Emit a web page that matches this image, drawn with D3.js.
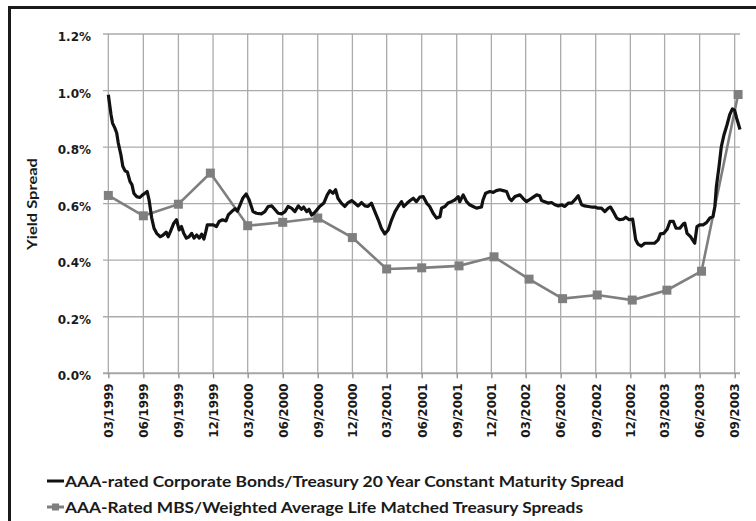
<!DOCTYPE html>
<html>
<head>
<meta charset="utf-8">
<script src="https://cdn.jsdelivr.net/npm/d3@7/dist/d3.min.js"></script>
<style>
  html, body { margin: 0; padding: 0; background: #fff; }
  svg { display: block; }
</style>
</head>
<body>
<svg id="chart" width="756" height="521"></svg>
<script>
// ---------------- DATA ----------------
const yTickValues = [0, 0.2, 0.4, 0.6, 0.8, 1.0, 1.2];
const xTickLabelsStart = "1999-03-01";
const xTickLabelsEnd = "2003-09-01";

const corpSeriesName = "AAA-rated Corporate Bonds/Treasury 20 Year Constant Maturity Spread";
const mbsSeriesName = "AAA-Rated MBS/Weighted Average Life Matched Treasury Spreads";
const yAxisTitle = "Yield Spread";

// AAA corporate / 20y CMT spread (%)
const corpSeries = [
["1999-03-01",0.985],["1999-03-08",0.915],["1999-03-12",0.885],["1999-03-18",0.868],["1999-03-23",0.850],["1999-03-27",0.815],["1999-04-03",0.773],["1999-04-08",0.732],["1999-04-14",0.716],["1999-04-20",0.712],["1999-04-27",0.678],["1999-05-02",0.667],["1999-05-07",0.637],["1999-05-14",0.625],["1999-05-23",0.622],["1999-05-30",0.631],["1999-06-05",0.637],["1999-06-11",0.643],["1999-06-16",0.613],["1999-06-23",0.549],["1999-06-29",0.513],["1999-07-06",0.495],["1999-07-15",0.483],["1999-07-23",0.489],["1999-07-31",0.499],["1999-08-05",0.483],["1999-08-11",0.501],["1999-08-20",0.531],["1999-08-27",0.543],["1999-09-03",0.507],["1999-09-09",0.519],["1999-09-15",0.495],["1999-09-22",0.478],["1999-09-29",0.483],["1999-10-06",0.495],["1999-10-12",0.478],["1999-10-19",0.489],["1999-10-26",0.478],["1999-11-01",0.492],["1999-11-07",0.475],["1999-11-12",0.501],["1999-11-16",0.525],["1999-11-23",0.525],["1999-12-02",0.525],["1999-12-10",0.519],["1999-12-17",0.537],["1999-12-26",0.543],
["2000-01-04",0.539],["2000-01-10",0.560],["2000-01-19",0.572],["2000-01-28",0.582],["2000-02-03",0.574],["2000-02-10",0.596],["2000-02-17",0.619],["2000-02-26",0.634],["2000-03-05",0.613],["2000-03-15",0.572],["2000-03-24",0.566],["2000-04-06",0.564],["2000-04-15",0.572],["2000-04-24",0.590],["2000-05-03",0.592],["2000-05-11",0.580],["2000-05-20",0.566],["2000-05-29",0.564],["2000-06-07",0.572],["2000-06-15",0.590],["2000-06-24",0.584],["2000-07-03",0.572],["2000-07-12",0.592],["2000-07-20",0.580],["2000-07-26",0.588],["2000-08-03",0.572],["2000-08-09",0.580],["2000-08-16",0.560],["2000-08-24",0.569],["2000-09-06",0.590],["2000-09-17",0.602],["2000-09-26",0.631],["2000-10-03",0.646],["2000-10-11",0.637],["2000-10-18",0.649],["2000-10-24",0.619],["2000-11-02",0.602],["2000-11-11",0.590],["2000-11-20",0.604],["2000-11-29",0.611],["2000-12-07",0.602],["2000-12-16",0.592],["2000-12-25",0.604],
["2001-01-03",0.592],["2001-01-11",0.590],["2001-01-20",0.602],["2001-01-29",0.572],["2001-02-07",0.543],["2001-02-15",0.513],["2001-02-24",0.493],["2001-03-05",0.507],["2001-03-14",0.543],["2001-03-23",0.572],["2001-03-31",0.590],["2001-04-09",0.607],["2001-04-15",0.590],["2001-04-24",0.602],["2001-05-01",0.610],["2001-05-10",0.619],["2001-05-18",0.607],["2001-05-27",0.623],["2001-06-05",0.625],["2001-06-14",0.602],["2001-06-22",0.590],["2001-07-01",0.566],["2001-07-10",0.549],["2001-07-19",0.554],["2001-07-23",0.584],["2001-08-01",0.590],["2001-08-09",0.602],["2001-08-18",0.607],["2001-08-27",0.613],["2001-09-05",0.625],["2001-09-09",0.607],["2001-09-18",0.631],["2001-09-27",0.607],["2001-10-05",0.596],["2001-10-14",0.590],["2001-10-23",0.584],["2001-11-05",0.588],["2001-11-09",0.613],["2001-11-16",0.637],["2001-11-27",0.643],["2001-12-06",0.640],["2001-12-14",0.646],["2001-12-23",0.649],
["2002-01-01",0.646],["2002-01-10",0.643],["2002-01-17",0.619],["2002-01-23",0.611],["2002-02-01",0.625],["2002-02-14",0.631],["2002-02-22",0.619],["2002-03-03",0.607],["2002-03-10",0.613],["2002-03-21",0.623],["2002-03-30",0.631],["2002-04-07",0.628],["2002-04-12",0.611],["2002-04-20",0.607],["2002-04-29",0.602],["2002-05-08",0.604],["2002-05-17",0.596],["2002-05-26",0.592],["2002-06-03",0.596],["2002-06-12",0.590],["2002-06-21",0.602],["2002-06-30",0.602],["2002-07-08",0.613],["2002-07-17",0.628],["2002-07-26",0.596],["2002-08-03",0.592],["2002-08-12",0.590],["2002-08-21",0.588],["2002-08-30",0.588],["2002-09-07",0.584],["2002-09-16",0.584],["2002-09-25",0.572],["2002-10-04",0.584],["2002-10-10",0.588],["2002-10-17",0.572],["2002-10-26",0.549],["2002-11-03",0.543],["2002-11-12",0.545],["2002-11-19",0.552],["2002-11-28",0.543],["2002-12-07",0.545],["2002-12-10",0.519],["2002-12-15",0.472],["2002-12-21",0.457],["2002-12-30",0.450],
["2003-01-08",0.460],["2003-01-21",0.460],["2003-02-03",0.460],["2003-02-12",0.472],["2003-02-18",0.493],["2003-02-27",0.495],["2003-03-08",0.510],["2003-03-15",0.537],["2003-03-24",0.537],["2003-03-31",0.513],["2003-04-10",0.513],["2003-04-19",0.528],["2003-04-23",0.531],["2003-04-29",0.495],["2003-05-08",0.483],["2003-05-19",0.460],["2003-05-25",0.519],["2003-06-01",0.525],["2003-06-10",0.525],["2003-06-19",0.533],["2003-06-28",0.549],["2003-07-06",0.554],["2003-07-11",0.590],["2003-07-15",0.661],["2003-07-22",0.732],["2003-07-28",0.802],["2003-08-04",0.844],["2003-08-12",0.879],["2003-08-19",0.915],["2003-08-26",0.935],["2003-09-01",0.930],["2003-09-06",0.903],["2003-09-10",0.885],["2003-09-15",0.862]
];

// AAA MBS / WAL-matched Treasury spread (%), quarterly
const mbsDates = ["1999-03-01","1999-06-01","1999-09-01","1999-11-24","2000-03-01","2000-06-01","2000-09-01","2000-12-01","2001-03-01","2001-06-01","2001-09-07","2001-12-08","2002-03-10","2002-06-06","2002-09-05","2002-12-06","2003-03-07","2003-06-06","2003-09-10"];
const mbsValues = [0.629,0.557,0.598,0.708,0.522,0.534,0.549,0.480,0.369,0.373,0.380,0.412,0.333,0.264,0.277,0.259,0.294,0.361,0.986];

// ---------------- CHART ----------------
const parse = d3.timeParse("%Y-%m-%d");
const svg = d3.select("#chart");

const plot = { left: 103, right: 740, top: 34, bottom: 373.3 };
const domainStart = parse("1999-02-15");
const domainEnd = parse("2003-09-15");

const x = d3.scaleTime().domain([domainStart, domainEnd]).range([plot.left, plot.right]);
const y = d3.scaleLinear().domain([0, 1.2]).range([plot.bottom, plot.top]);

const xTicks = d3.timeMonth.range(parse(xTickLabelsStart), d3.timeDay.offset(parse(xTickLabelsEnd), 1), 3);
const fmtX = d3.timeFormat("%m/%Y");
const fmtY = d => d3.format(".1f")(d) + "%";

// outer frame
svg.append("rect")
  .attr("x", 9.5).attr("y", 7.5).attr("width", 900).attr("height", 700)
  .attr("fill", "none").attr("stroke", "#1a1a1a").attr("stroke-width", 3);

const gridColor = "#ababab";

// horizontal gridlines
svg.append("g")
  .selectAll("line").data(yTickValues.filter(d => d > 0)).join("line")
  .attr("x1", plot.left).attr("x2", plot.right)
  .attr("y1", d => y(d)).attr("y2", d => y(d))
  .attr("stroke", gridColor).attr("stroke-width", 1.3);

// vertical gridlines
svg.append("g")
  .selectAll("line").data(xTicks).join("line")
  .attr("x1", d => x(d)).attr("x2", d => x(d))
  .attr("y1", plot.top).attr("y2", plot.bottom)
  .attr("stroke", gridColor).attr("stroke-width", 1.3);

// x axis
const xAxis = d3.axisBottom(x).tickValues(xTicks).tickFormat(fmtX).tickSize(5).tickSizeOuter(0);
const gx = svg.append("g").attr("transform", `translate(0,${plot.bottom})`).call(xAxis);
gx.select(".domain").attr("stroke", "#a6a6a6").attr("stroke-width", 2)
  .attr("d", `M${plot.left},0H${plot.right}`);
gx.selectAll(".tick line").attr("stroke", "#8c8c8c").attr("stroke-width", 1.3);
gx.selectAll(".tick text")
  .attr("font-family", "'DejaVu Sans', Verdana, sans-serif")
  .attr("font-weight", "bold").attr("font-size", 12).attr("fill", "#1a1a1a")
  .attr("text-anchor", "end")
  .attr("transform", "translate(0,4) rotate(-90)")
  .attr("x", -6).attr("y", 0).attr("dy", "0.36em");

// y axis
const yAxis = d3.axisLeft(y).tickValues(yTickValues).tickFormat(fmtY).tickSize(0);
const gy = svg.append("g").attr("transform", `translate(${plot.left},0)`).call(yAxis);
gy.select(".domain").remove();
gy.selectAll(".tick text")
  .attr("font-family", "'DejaVu Sans', Verdana, sans-serif")
  .attr("font-weight", "bold").attr("font-size", 12).attr("fill", "#1a1a1a")
  .attr("x", -12).attr("dy", "0.55em");

// y title
svg.append("text")
  .attr("transform", "translate(37,204) rotate(-90)")
  .attr("text-anchor", "middle")
  .attr("font-family", "Lato, 'Open Sans', sans-serif")
  .attr("font-weight", "bold").attr("font-size", 14).attr("fill", "#1a1a1a")
  .attr("textLength", 92).attr("lengthAdjust", "spacingAndGlyphs")
  .text(yAxisTitle);

// MBS series (gray with square markers)
const mbsData = mbsDates.map((d, i) => ({ date: parse(d), value: mbsValues[i] }));
const grayColor = "#7f7f7f";
svg.append("path")
  .datum(mbsData)
  .attr("fill", "none").attr("stroke", grayColor).attr("stroke-width", 2.6)
  .attr("d", d3.line().x(d => x(d.date)).y(d => y(d.value)));
svg.append("g").selectAll("rect").data(mbsData).join("rect")
  .attr("x", d => x(d.date) - 4.5).attr("y", d => y(d.value) - 4.5)
  .attr("width", 9).attr("height", 9).attr("fill", grayColor);

// Corporate series (black)
const corpData = corpSeries.map(([d, v]) => ({ date: parse(d), value: v }));
svg.append("path")
  .datum(corpData)
  .attr("fill", "none").attr("stroke", "#111").attr("stroke-width", 3.2)
  .attr("stroke-linejoin", "round").attr("stroke-linecap", "butt")
  .attr("d", d3.line().x(d => x(d.date)).y(d => y(d.value)));

// legend
const legend = svg.append("g").attr("font-family", "Lato, 'Open Sans', sans-serif")
  .attr("font-weight", "bold").attr("font-size", 16).attr("fill", "#1a1a1a");
const lg1y = 481, lg2y = 507;
legend.append("line").attr("x1", 47).attr("x2", 64).attr("y1", lg1y).attr("y2", lg1y)
  .attr("stroke", "#111").attr("stroke-width", 3);
legend.append("text").attr("x", 65).attr("y", lg1y).attr("dy", "0.35em")
  .attr("textLength", 559).attr("lengthAdjust", "spacingAndGlyphs").text(corpSeriesName);
legend.append("line").attr("x1", 47).attr("x2", 64).attr("y1", lg2y).attr("y2", lg2y)
  .attr("stroke", grayColor).attr("stroke-width", 3);
legend.append("rect").attr("x", 52).attr("y", lg2y - 3.5).attr("width", 7).attr("height", 7).attr("fill", grayColor);
legend.append("text").attr("x", 65).attr("y", lg2y).attr("dy", "0.35em")
  .attr("textLength", 518).attr("lengthAdjust", "spacingAndGlyphs").text(mbsSeriesName);
</script>
</body>
</html>
